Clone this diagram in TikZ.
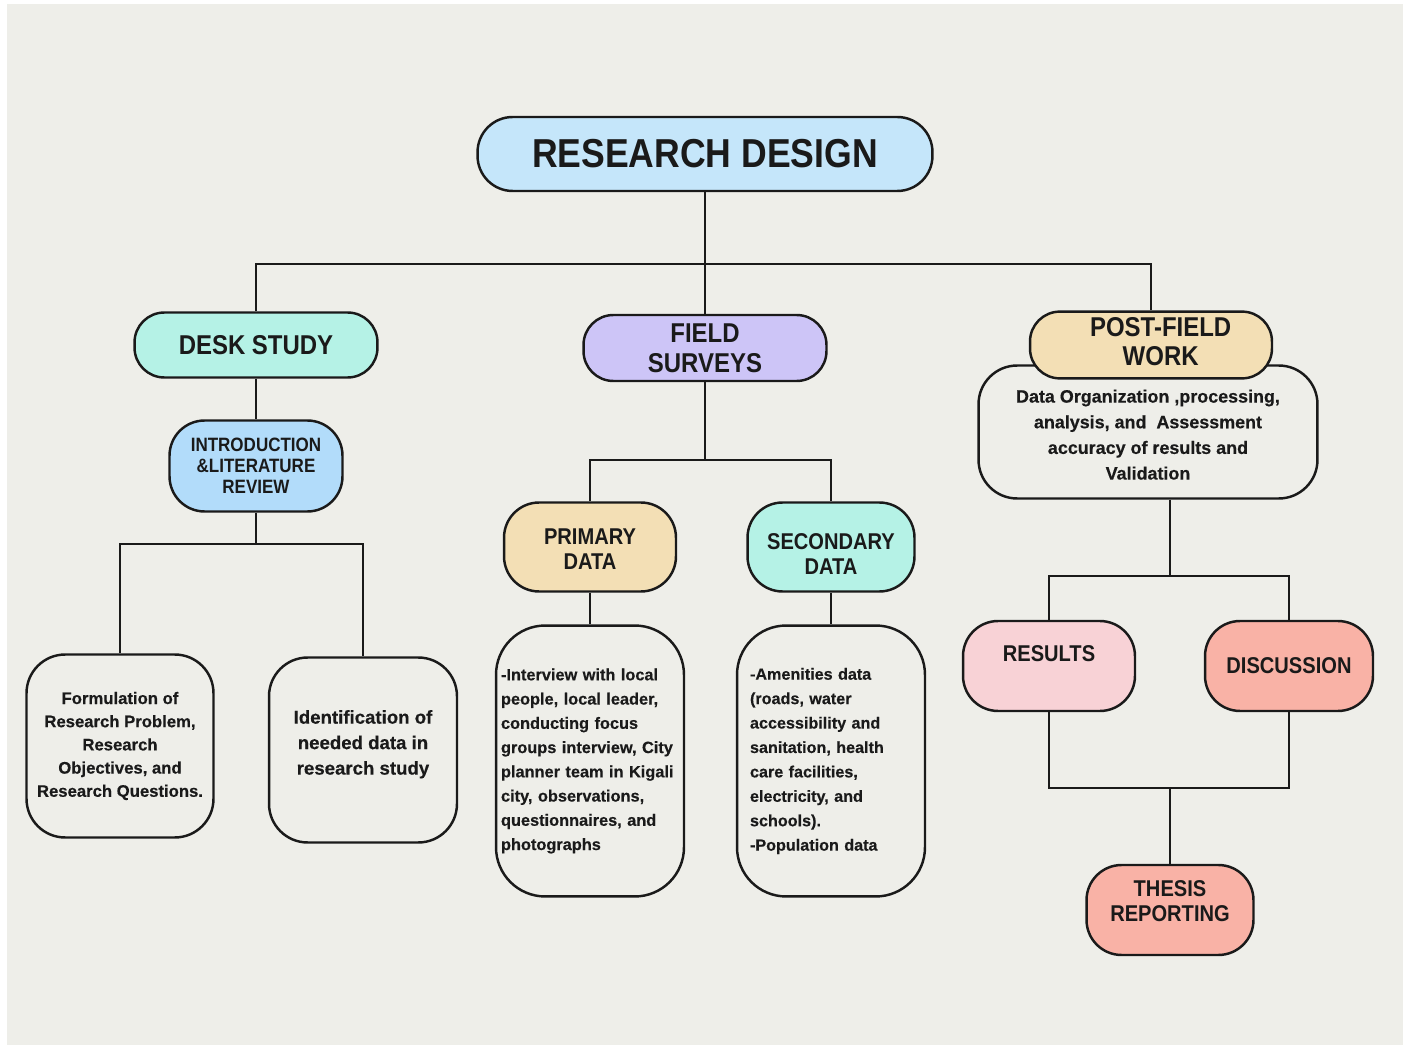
\documentclass[tikz,border=0pt]{standalone}
\usepackage{fontspec}
\setmainfont{Liberation Sans}
\newfontfamily\headfont{Liberation Sans}[FakeStretch=0.88]
\newfontfamily\bodyfont{Liberation Sans}[BoldFeatures={FakeBold=0.4}]
\usetikzlibrary{positioning}
\definecolor{paper}{RGB}{238,238,233}
\definecolor{ink}{RGB}{26,26,26}
\definecolor{rdblue}{RGB}{197,230,250}
\definecolor{mint}{RGB}{181,242,230}
\definecolor{lilac}{RGB}{205,197,247}
\definecolor{sand}{RGB}{243,223,181}
\definecolor{skyblue}{RGB}{178,220,250}
\definecolor{blush}{RGB}{248,210,214}
\definecolor{salmon}{RGB}{249,178,166}
\tikzset{
    link/.style = {draw=ink,line width=1.3pt},
    topic/.style = {draw=ink,line width=1.4pt,rounded corners=17pt,align=center,text=ink,inner sep=2pt},
    note/.style = {draw=ink,line width=1.4pt,rounded corners=22pt,fill=paper,text=ink,inner sep=2pt}
}
\newcommand\hd[2]{\headfont\bfseries\fontsize{#1}{#2}\selectfont}
\newcommand\bd[2]{\bodyfont\bfseries\fontsize{#1}{#2}\selectfont}
% text nudged inside its box: extra height, left pad, lines
\newcommand\nudge[3]{\raisebox{0pt}[\dimexpr\height+#1\relax][\depth]{\begin{tabular}{@{\hspace{#2}}c@{}}#3\end{tabular}}}

\begin{document}
\begin{tikzpicture}[x=0.02cm,y=-0.02cm]
    % Page
    \fill[white] (0,0) rectangle (1411,1047);
    \fill[paper] (7,4) rectangle (1403,1045);
    \useasboundingbox (0,0) rectangle (1411,1047);
    % Top
    \node[topic,fill=rdblue,minimum width=9.1cm,minimum height=1.48cm,rounded corners=20pt,font=\hd{23}{26}] (rd) at (705,154) {RESEARCH DESIGN};
    % Branches
    \node[topic,fill=mint,minimum width=4.86cm,minimum height=1.3cm,font=\hd{15.5}{17}] (ds) at (256,345) {DESK STUDY};
    \node[topic,fill=lilac,minimum width=4.86cm,minimum height=1.32cm,font=\hd{15.5}{17}] (fs) at (705,348) {FIELD\\SURVEYS};
    \node[note,minimum width=6.78cm,minimum height=2.66cm,font=\bd{10.2}{14.6}] (data) at (1148,432) {\nudge{4.5pt}{0pt}{Data Organization ,processing,\\analysis, and\ \ Assessment\\accuracy of results and\\Validation}};
    \node[topic,fill=sand,minimum width=4.84cm,minimum height=1.28cm,font=\hd{15.5}{17}] (pf) at (1151,345) {\nudge{0pt}{11pt}{POST-FIELD\\WORK}};
    % Desk study
    \node[topic,fill=skyblue,minimum width=3.46cm,minimum height=1.82cm,rounded corners=20pt,font=\hd{11}{12}] (intro) at (256,466) {INTRODUCTION\\\&LITERATURE\\REVIEW};
    \node[note,minimum width=3.74cm,minimum height=3.66cm,align=center,font=\bd{9.5}{13.2}] (form) at (120,746) {Formulation of\\Research Problem,\\Research\\Objectives, and\\Research Questions.};
    \node[note,minimum width=3.76cm,minimum height=3.7cm,font=\bd{10.6}{14.5}] (ident) at (363,750) {\nudge{-6.8pt}{0pt}{Identification of\\needed data in\\research study}};
    % Field surveys
    \node[topic,fill=sand,minimum width=3.44cm,minimum height=1.78cm,rounded corners=20pt,font=\hd{13}{14}] (prim) at (590,547) {\nudge{5.7pt}{0pt}{PRIMARY\\DATA}};
    \node[topic,fill=mint,minimum width=3.34cm,minimum height=1.78cm,rounded corners=20pt,font=\hd{13}{14}] (sec) at (831,547) {\nudge{11.3pt}{0pt}{SECONDARY\\DATA}};
    \node[note,minimum width=3.76cm,minimum height=5.42cm,rounded corners=28pt,text width=3.56cm,align=left,font=\bd{9.3}{13.8}] (ptxt) at (590,761) {-Interview with local\\people, local leader,\\conducting focus\\groups interview, City\\planner team in Kigali\\city, observations,\\questionnaires, and\\photographs};
    \node[note,minimum width=3.76cm,minimum height=5.42cm,rounded corners=28pt,text width=3.24cm,align=left,font=\bd{9.2}{13.9}] (stxt) at (831,761) {-Amenities data\\(roads, water\\accessibility and\\sanitation, health\\care facilities,\\electricity, and\\schools).\\-Population data};
    % Post-field
    \node[topic,fill=blush,minimum width=3.44cm,minimum height=1.8cm,rounded corners=20pt,text depth=0.48cm,font=\hd{13}{14}] (res) at (1049,666) {RESULTS};
    \node[topic,fill=salmon,minimum width=3.36cm,minimum height=1.8cm,rounded corners=20pt,font=\hd{13}{14}] (disc) at (1289,666) {DISCUSSION};
    \node[topic,fill=salmon,minimum width=3.34cm,minimum height=1.8cm,rounded corners=20pt,font=\hd{13}{14}] (thesis) at (1170,910) {\nudge{-6.8pt}{0pt}{THESIS\\REPORTING}};
    % Junctions
    \coordinate (j0) at (705,264);
    \coordinate (j1) at (256,544);
    \coordinate (j2) at (705,460);
    \coordinate (j3) at (1170,576);
    \coordinate (j4) at (1170,788);
    % Links
    \foreach \src/\dest in {rd/fs,ds/intro,prim/ptxt,sec/stxt}
        \draw[link] (\src) to (\dest);
    \draw[link] (ds.north) |- (j0) -| (pf.north);
    \draw[link] (intro) -- (j1);
    \draw[link] (form.north) |- (j1) -| (ident.north);
    \draw[link] (fs) -- (j2);
    \draw[link] (prim.north) |- (j2) -| (sec.north);
    \draw[link] (data.south -| j3) -- (j3);
    \draw[link] (res.north) |- (j3) -| (disc.north);
    \draw[link] (res.south) |- (j4) -| (disc.south);
    \draw[link] (j4) -- (thesis);
\end{tikzpicture}
\end{document}
